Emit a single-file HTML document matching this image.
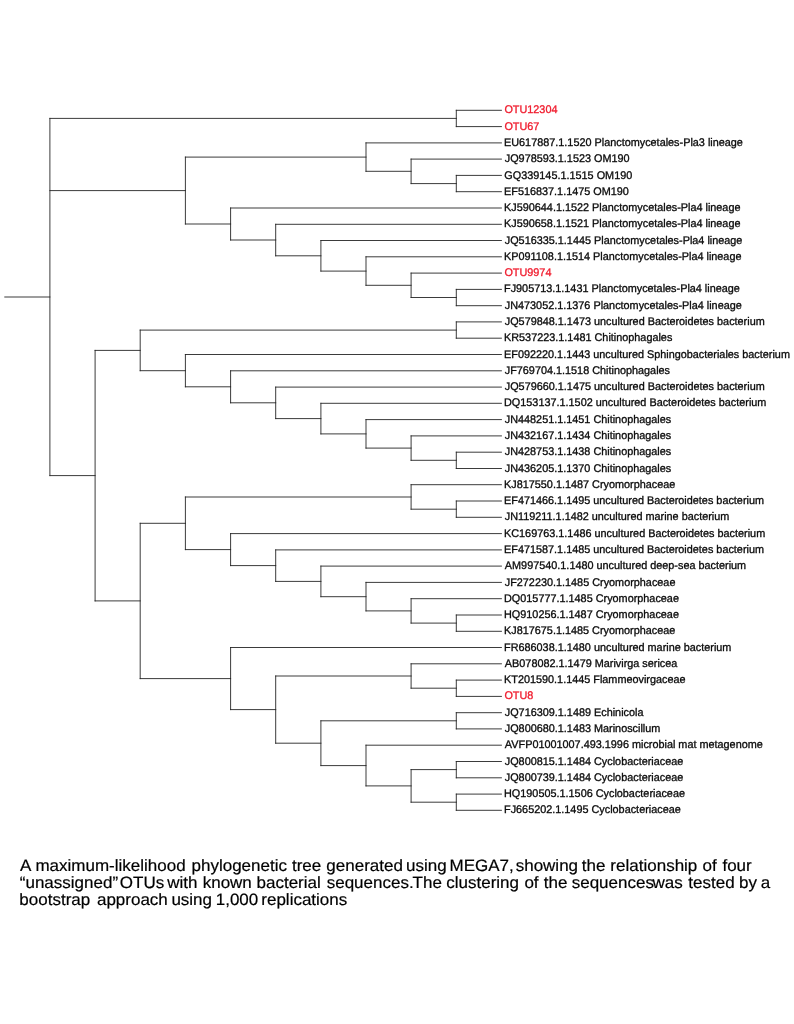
<!DOCTYPE html>
<html><head><meta charset="utf-8"><title>Phylogenetic tree</title>
<style>
html,body{margin:0;padding:0;background:#fff;}
body{width:794px;height:1024px;overflow:hidden;position:relative;font-family:"Liberation Sans",sans-serif;}
svg{position:absolute;left:0;top:0;will-change:transform;text-rendering:geometricPrecision;}
.l{font-family:"Liberation Sans",sans-serif;font-size:11.1px;fill:#0a0a0a;stroke:#0a0a0a;stroke-width:0.32px;}
.r{fill:#f01a2c;stroke:#f01a2c;}
.c{font-family:"Liberation Sans",sans-serif;font-size:16.4px;fill:#000;stroke:#000;stroke-width:0.2px;}
</style></head><body>
<svg width="794" height="1024" viewBox="0 0 794 1024">
<g stroke="#202020" stroke-width="0.88" fill="none" stroke-linecap="square">
<line x1="456.3" y1="110.3" x2="501.4" y2="110.3"/>
<line x1="456.3" y1="126.6" x2="501.4" y2="126.6"/>
<line x1="456.3" y1="110.3" x2="456.3" y2="126.6"/>
<line x1="49.9" y1="118.4" x2="456.3" y2="118.4"/>
<line x1="366.0" y1="142.9" x2="501.4" y2="142.9"/>
<line x1="411.1" y1="159.1" x2="501.4" y2="159.1"/>
<line x1="456.3" y1="175.4" x2="501.4" y2="175.4"/>
<line x1="456.3" y1="191.7" x2="501.4" y2="191.7"/>
<line x1="456.3" y1="175.4" x2="456.3" y2="191.7"/>
<line x1="411.1" y1="183.6" x2="456.3" y2="183.6"/>
<line x1="411.1" y1="159.1" x2="411.1" y2="183.6"/>
<line x1="366.0" y1="171.3" x2="411.1" y2="171.3"/>
<line x1="366.0" y1="142.9" x2="366.0" y2="171.3"/>
<line x1="185.4" y1="157.1" x2="366.0" y2="157.1"/>
<line x1="230.6" y1="208.0" x2="501.4" y2="208.0"/>
<line x1="275.7" y1="224.3" x2="501.4" y2="224.3"/>
<line x1="320.9" y1="240.5" x2="501.4" y2="240.5"/>
<line x1="366.0" y1="256.8" x2="501.4" y2="256.8"/>
<line x1="411.1" y1="273.1" x2="501.4" y2="273.1"/>
<line x1="456.3" y1="289.4" x2="501.4" y2="289.4"/>
<line x1="456.3" y1="305.7" x2="501.4" y2="305.7"/>
<line x1="456.3" y1="289.4" x2="456.3" y2="305.7"/>
<line x1="411.1" y1="297.5" x2="456.3" y2="297.5"/>
<line x1="411.1" y1="273.1" x2="411.1" y2="297.5"/>
<line x1="366.0" y1="285.3" x2="411.1" y2="285.3"/>
<line x1="366.0" y1="256.8" x2="366.0" y2="285.3"/>
<line x1="320.9" y1="271.1" x2="366.0" y2="271.1"/>
<line x1="320.9" y1="240.5" x2="320.9" y2="271.1"/>
<line x1="275.7" y1="255.8" x2="320.9" y2="255.8"/>
<line x1="275.7" y1="224.3" x2="275.7" y2="255.8"/>
<line x1="230.6" y1="240.0" x2="275.7" y2="240.0"/>
<line x1="230.6" y1="208.0" x2="230.6" y2="240.0"/>
<line x1="185.4" y1="224.0" x2="230.6" y2="224.0"/>
<line x1="185.4" y1="157.1" x2="185.4" y2="224.0"/>
<line x1="49.9" y1="190.6" x2="185.4" y2="190.6"/>
<line x1="456.3" y1="321.9" x2="501.4" y2="321.9"/>
<line x1="456.3" y1="338.2" x2="501.4" y2="338.2"/>
<line x1="456.3" y1="321.9" x2="456.3" y2="338.2"/>
<line x1="140.2" y1="330.1" x2="456.3" y2="330.1"/>
<line x1="185.4" y1="354.5" x2="501.4" y2="354.5"/>
<line x1="230.6" y1="370.8" x2="501.4" y2="370.8"/>
<line x1="275.7" y1="387.1" x2="501.4" y2="387.1"/>
<line x1="320.9" y1="403.3" x2="501.4" y2="403.3"/>
<line x1="366.0" y1="419.6" x2="501.4" y2="419.6"/>
<line x1="411.1" y1="435.9" x2="501.4" y2="435.9"/>
<line x1="456.3" y1="452.2" x2="501.4" y2="452.2"/>
<line x1="456.3" y1="468.5" x2="501.4" y2="468.5"/>
<line x1="456.3" y1="452.2" x2="456.3" y2="468.5"/>
<line x1="411.1" y1="460.3" x2="456.3" y2="460.3"/>
<line x1="411.1" y1="435.9" x2="411.1" y2="460.3"/>
<line x1="366.0" y1="448.1" x2="411.1" y2="448.1"/>
<line x1="366.0" y1="419.6" x2="366.0" y2="448.1"/>
<line x1="320.9" y1="433.9" x2="366.0" y2="433.9"/>
<line x1="320.9" y1="403.3" x2="320.9" y2="433.9"/>
<line x1="275.7" y1="418.6" x2="320.9" y2="418.6"/>
<line x1="275.7" y1="387.1" x2="275.7" y2="418.6"/>
<line x1="230.6" y1="402.8" x2="275.7" y2="402.8"/>
<line x1="230.6" y1="370.8" x2="230.6" y2="402.8"/>
<line x1="185.4" y1="386.8" x2="230.6" y2="386.8"/>
<line x1="185.4" y1="354.5" x2="185.4" y2="386.8"/>
<line x1="140.2" y1="370.7" x2="185.4" y2="370.7"/>
<line x1="140.2" y1="330.1" x2="140.2" y2="370.7"/>
<line x1="95.1" y1="350.4" x2="140.2" y2="350.4"/>
<line x1="411.1" y1="484.7" x2="501.4" y2="484.7"/>
<line x1="456.3" y1="501.0" x2="501.4" y2="501.0"/>
<line x1="456.3" y1="517.3" x2="501.4" y2="517.3"/>
<line x1="456.3" y1="501.0" x2="456.3" y2="517.3"/>
<line x1="411.1" y1="509.2" x2="456.3" y2="509.2"/>
<line x1="411.1" y1="484.7" x2="411.1" y2="509.2"/>
<line x1="185.4" y1="497.0" x2="411.1" y2="497.0"/>
<line x1="230.6" y1="533.6" x2="501.4" y2="533.6"/>
<line x1="275.7" y1="549.9" x2="501.4" y2="549.9"/>
<line x1="320.9" y1="566.1" x2="501.4" y2="566.1"/>
<line x1="366.0" y1="582.4" x2="501.4" y2="582.4"/>
<line x1="411.1" y1="598.7" x2="501.4" y2="598.7"/>
<line x1="456.3" y1="615.0" x2="501.4" y2="615.0"/>
<line x1="456.3" y1="631.3" x2="501.4" y2="631.3"/>
<line x1="456.3" y1="615.0" x2="456.3" y2="631.3"/>
<line x1="411.1" y1="623.1" x2="456.3" y2="623.1"/>
<line x1="411.1" y1="598.7" x2="411.1" y2="623.1"/>
<line x1="366.0" y1="610.9" x2="411.1" y2="610.9"/>
<line x1="366.0" y1="582.4" x2="366.0" y2="610.9"/>
<line x1="320.9" y1="596.7" x2="366.0" y2="596.7"/>
<line x1="320.9" y1="566.1" x2="320.9" y2="596.7"/>
<line x1="275.7" y1="581.4" x2="320.9" y2="581.4"/>
<line x1="275.7" y1="549.9" x2="275.7" y2="581.4"/>
<line x1="230.6" y1="565.6" x2="275.7" y2="565.6"/>
<line x1="230.6" y1="533.6" x2="230.6" y2="565.6"/>
<line x1="185.4" y1="549.6" x2="230.6" y2="549.6"/>
<line x1="185.4" y1="497.0" x2="185.4" y2="549.6"/>
<line x1="140.2" y1="523.3" x2="185.4" y2="523.3"/>
<line x1="230.6" y1="647.5" x2="501.4" y2="647.5"/>
<line x1="411.1" y1="663.8" x2="501.4" y2="663.8"/>
<line x1="456.3" y1="680.1" x2="501.4" y2="680.1"/>
<line x1="456.3" y1="696.4" x2="501.4" y2="696.4"/>
<line x1="456.3" y1="680.1" x2="456.3" y2="696.4"/>
<line x1="411.1" y1="688.2" x2="456.3" y2="688.2"/>
<line x1="411.1" y1="663.8" x2="411.1" y2="688.2"/>
<line x1="275.7" y1="676.0" x2="411.1" y2="676.0"/>
<line x1="456.3" y1="712.7" x2="501.4" y2="712.7"/>
<line x1="456.3" y1="728.9" x2="501.4" y2="728.9"/>
<line x1="456.3" y1="712.7" x2="456.3" y2="728.9"/>
<line x1="320.9" y1="720.8" x2="456.3" y2="720.8"/>
<line x1="366.0" y1="745.2" x2="501.4" y2="745.2"/>
<line x1="456.3" y1="761.5" x2="501.4" y2="761.5"/>
<line x1="456.3" y1="777.8" x2="501.4" y2="777.8"/>
<line x1="456.3" y1="761.5" x2="456.3" y2="777.8"/>
<line x1="411.1" y1="769.6" x2="456.3" y2="769.6"/>
<line x1="456.3" y1="794.1" x2="501.4" y2="794.1"/>
<line x1="456.3" y1="810.3" x2="501.4" y2="810.3"/>
<line x1="456.3" y1="794.1" x2="456.3" y2="810.3"/>
<line x1="411.1" y1="802.2" x2="456.3" y2="802.2"/>
<line x1="411.1" y1="769.6" x2="411.1" y2="802.2"/>
<line x1="366.0" y1="785.9" x2="411.1" y2="785.9"/>
<line x1="366.0" y1="745.2" x2="366.0" y2="785.9"/>
<line x1="320.9" y1="765.6" x2="366.0" y2="765.6"/>
<line x1="320.9" y1="720.8" x2="320.9" y2="765.6"/>
<line x1="275.7" y1="743.2" x2="320.9" y2="743.2"/>
<line x1="275.7" y1="676.0" x2="275.7" y2="743.2"/>
<line x1="230.6" y1="709.6" x2="275.7" y2="709.6"/>
<line x1="230.6" y1="647.5" x2="230.6" y2="709.6"/>
<line x1="140.2" y1="678.6" x2="230.6" y2="678.6"/>
<line x1="140.2" y1="523.3" x2="140.2" y2="678.6"/>
<line x1="95.1" y1="600.9" x2="140.2" y2="600.9"/>
<line x1="95.1" y1="350.4" x2="95.1" y2="600.9"/>
<line x1="49.9" y1="475.6" x2="95.1" y2="475.6"/>
<line x1="49.9" y1="118.4" x2="49.9" y2="475.6"/>
<line x1="4.8" y1="297.0" x2="49.9" y2="297.0"/>
</g>
<text class="l r" x="504.41" y="113.40" textLength="53.08" lengthAdjust="spacingAndGlyphs">OTU12304</text>
<text class="l r" x="504.41" y="129.68" textLength="34.97" lengthAdjust="spacingAndGlyphs">OTU67</text>
<text class="l" x="504.03" y="145.96" textLength="238.87" lengthAdjust="spacingAndGlyphs">EU617887.1.1520 Planctomycetales-Pla3 lineage</text>
<text class="l" x="504.74" y="162.24" textLength="124.87" lengthAdjust="spacingAndGlyphs">JQ978593.1.1523 OM190</text>
<text class="l" x="504.36" y="178.52" textLength="127.88" lengthAdjust="spacingAndGlyphs">GQ339145.1.1515 OM190</text>
<text class="l" x="504.03" y="194.80" textLength="124.87" lengthAdjust="spacingAndGlyphs">EF516837.1.1475 OM190</text>
<text class="l" x="504.03" y="211.08" textLength="236.46" lengthAdjust="spacingAndGlyphs">KJ590644.1.1522 Planctomycetales-Pla4 lineage</text>
<text class="l" x="504.03" y="227.36" textLength="236.46" lengthAdjust="spacingAndGlyphs">KJ590658.1.1521 Planctomycetales-Pla4 lineage</text>
<text class="l" x="504.74" y="243.64" textLength="237.66" lengthAdjust="spacingAndGlyphs">JQ516335.1.1445 Planctomycetales-Pla4 lineage</text>
<text class="l" x="504.03" y="259.92" textLength="237.46" lengthAdjust="spacingAndGlyphs">KP091108.1.1514 Planctomycetales-Pla4 lineage</text>
<text class="l r" x="504.41" y="276.20" textLength="47.04" lengthAdjust="spacingAndGlyphs">OTU9974</text>
<text class="l" x="504.03" y="292.48" textLength="235.85" lengthAdjust="spacingAndGlyphs">FJ905713.1.1431 Planctomycetales-Pla4 lineage</text>
<text class="l" x="504.74" y="308.76" textLength="237.05" lengthAdjust="spacingAndGlyphs">JN473052.1.1376 Planctomycetales-Pla4 lineage</text>
<text class="l" x="504.74" y="325.04" textLength="259.97" lengthAdjust="spacingAndGlyphs">JQ579848.1.1473 uncultured Bacteroidetes bacterium</text>
<text class="l" x="504.03" y="341.32" textLength="168.31" lengthAdjust="spacingAndGlyphs">KR537223.1.1481 Chitinophagales</text>
<text class="l" x="504.03" y="357.60" textLength="285.92" lengthAdjust="spacingAndGlyphs">EF092220.1.1443 uncultured Sphingobacteriales bacterium</text>
<text class="l" x="504.74" y="373.88" textLength="165.29" lengthAdjust="spacingAndGlyphs">JF769704.1.1518 Chitinophagales</text>
<text class="l" x="504.74" y="390.16" textLength="259.97" lengthAdjust="spacingAndGlyphs">JQ579660.1.1475 uncultured Bacteroidetes bacterium</text>
<text class="l" x="504.03" y="406.44" textLength="262.38" lengthAdjust="spacingAndGlyphs">DQ153137.1.1502 uncultured Bacteroidetes bacterium</text>
<text class="l" x="504.74" y="422.72" textLength="166.50" lengthAdjust="spacingAndGlyphs">JN448251.1.1451 Chitinophagales</text>
<text class="l" x="504.74" y="439.00" textLength="166.50" lengthAdjust="spacingAndGlyphs">JN432167.1.1434 Chitinophagales</text>
<text class="l" x="504.74" y="455.28" textLength="166.50" lengthAdjust="spacingAndGlyphs">JN428753.1.1438 Chitinophagales</text>
<text class="l" x="504.74" y="471.56" textLength="166.50" lengthAdjust="spacingAndGlyphs">JN436205.1.1370 Chitinophagales</text>
<text class="l" x="504.03" y="487.84" textLength="171.31" lengthAdjust="spacingAndGlyphs">KJ817550.1.1487 Cryomorphaceae</text>
<text class="l" x="504.03" y="504.12" textLength="259.97" lengthAdjust="spacingAndGlyphs">EF471466.1.1495 uncultured Bacteroidetes bacterium</text>
<text class="l" x="504.74" y="520.40" textLength="224.58" lengthAdjust="spacingAndGlyphs">JN119211.1.1482 uncultured marine bacterium</text>
<text class="l" x="504.03" y="536.68" textLength="261.18" lengthAdjust="spacingAndGlyphs">KC169763.1.1486 uncultured Bacteroidetes bacterium</text>
<text class="l" x="504.03" y="552.96" textLength="259.97" lengthAdjust="spacingAndGlyphs">EF471587.1.1485 uncultured Bacteroidetes bacterium</text>
<text class="l" x="504.85" y="569.24" textLength="241.28" lengthAdjust="spacingAndGlyphs">AM997540.1.1480 uncultured deep-sea bacterium</text>
<text class="l" x="504.74" y="585.52" textLength="170.70" lengthAdjust="spacingAndGlyphs">JF272230.1.1485 Cryomorphaceae</text>
<text class="l" x="504.03" y="601.80" textLength="174.92" lengthAdjust="spacingAndGlyphs">DQ015777.1.1485 Cryomorphaceae</text>
<text class="l" x="504.03" y="618.08" textLength="174.92" lengthAdjust="spacingAndGlyphs">HQ910256.1.1487 Cryomorphaceae</text>
<text class="l" x="504.03" y="634.36" textLength="171.31" lengthAdjust="spacingAndGlyphs">KJ817675.1.1485 Cryomorphaceae</text>
<text class="l" x="504.03" y="650.64" textLength="227.39" lengthAdjust="spacingAndGlyphs">FR686038.1.1480 uncultured marine bacterium</text>
<text class="l" x="504.85" y="666.92" textLength="172.50" lengthAdjust="spacingAndGlyphs">AB078082.1.1479 Marivirga sericea</text>
<text class="l" x="504.03" y="683.20" textLength="181.55" lengthAdjust="spacingAndGlyphs">KT201590.1.1445 Flammeovirgaceae</text>
<text class="l r" x="504.41" y="699.48" textLength="28.94" lengthAdjust="spacingAndGlyphs">OTU8</text>
<text class="l" x="504.74" y="715.76" textLength="138.74" lengthAdjust="spacingAndGlyphs">JQ716309.1.1489 Echinicola</text>
<text class="l" x="504.74" y="732.04" textLength="155.61" lengthAdjust="spacingAndGlyphs">JQ800680.1.1483 Marinoscillum</text>
<text class="l" x="504.85" y="748.32" textLength="257.96" lengthAdjust="spacingAndGlyphs">AVFP01001007.493.1996 microbial mat metagenome</text>
<text class="l" x="504.74" y="764.60" textLength="178.55" lengthAdjust="spacingAndGlyphs">JQ800815.1.1484 Cyclobacteriaceae</text>
<text class="l" x="504.74" y="780.88" textLength="178.55" lengthAdjust="spacingAndGlyphs">JQ800739.1.1484 Cyclobacteriaceae</text>
<text class="l" x="504.03" y="797.16" textLength="180.96" lengthAdjust="spacingAndGlyphs">HQ190505.1.1506 Cyclobacteriaceae</text>
<text class="l" x="504.03" y="813.44" textLength="176.74" lengthAdjust="spacingAndGlyphs">FJ665202.1.1495 Cyclobacteriaceae</text>
<text class="c" x="20.02" y="871.1" textLength="11.34" lengthAdjust="spacingAndGlyphs">A</text>
<text class="c" x="35.40" y="871.1" textLength="150.22" lengthAdjust="spacingAndGlyphs">maximum-likelihood</text>
<text class="c" x="191.50" y="871.1" textLength="95.46" lengthAdjust="spacingAndGlyphs">phylogenetic</text>
<text class="c" x="291.94" y="871.1" textLength="29.29" lengthAdjust="spacingAndGlyphs">tree</text>
<text class="c" x="326.32" y="871.1" textLength="76.57" lengthAdjust="spacingAndGlyphs">generated</text>
<text class="c" x="406.09" y="871.1" textLength="40.64" lengthAdjust="spacingAndGlyphs">using</text>
<text class="c" x="449.54" y="871.1" textLength="64.24" lengthAdjust="spacingAndGlyphs">MEGA7,</text>
<text class="c" x="515.69" y="871.1" textLength="62.37" lengthAdjust="spacingAndGlyphs">showing</text>
<text class="c" x="581.75" y="871.1" textLength="23.63" lengthAdjust="spacingAndGlyphs">the</text>
<text class="c" x="610.39" y="871.1" textLength="86.95" lengthAdjust="spacingAndGlyphs">relationship</text>
<text class="c" x="702.62" y="871.1" textLength="14.18" lengthAdjust="spacingAndGlyphs">of</text>
<text class="c" x="722.45" y="871.1" textLength="29.29" lengthAdjust="spacingAndGlyphs">four</text>
<text class="c" x="19.80" y="888.0" textLength="98.29" lengthAdjust="spacingAndGlyphs">“unassigned”</text>
<text class="c" x="119.83" y="888.0" textLength="44.38" lengthAdjust="spacingAndGlyphs">OTUs</text>
<text class="c" x="167.30" y="888.0" textLength="30.23" lengthAdjust="spacingAndGlyphs">with</text>
<text class="c" x="202.70" y="888.0" textLength="49.14" lengthAdjust="spacingAndGlyphs">known</text>
<text class="c" x="256.50" y="888.0" textLength="64.26" lengthAdjust="spacingAndGlyphs">bacterial</text>
<text class="c" x="326.69" y="888.0" textLength="86.95" lengthAdjust="spacingAndGlyphs">sequences.</text>
<text class="c" x="412.56" y="888.0" textLength="29.29" lengthAdjust="spacingAndGlyphs">The</text>
<text class="c" x="446.24" y="888.0" textLength="72.76" lengthAdjust="spacingAndGlyphs">clustering</text>
<text class="c" x="524.42" y="888.0" textLength="14.18" lengthAdjust="spacingAndGlyphs">of</text>
<text class="c" x="543.85" y="888.0" textLength="23.63" lengthAdjust="spacingAndGlyphs">the</text>
<text class="c" x="571.69" y="888.0" textLength="82.23" lengthAdjust="spacingAndGlyphs">sequences</text>
<text class="c" x="652.60" y="888.0" textLength="30.23" lengthAdjust="spacingAndGlyphs">was</text>
<text class="c" x="688.35" y="888.0" textLength="46.31" lengthAdjust="spacingAndGlyphs">tested</text>
<text class="c" x="739.00" y="888.0" textLength="17.95" lengthAdjust="spacingAndGlyphs">by</text>
<text class="c" x="760.84" y="888.0" textLength="9.45" lengthAdjust="spacingAndGlyphs">a</text>
<text class="c" x="19.39" y="905.2" textLength="70.88" lengthAdjust="spacingAndGlyphs">bootstrap</text>
<text class="c" x="96.94" y="905.2" textLength="70.89" lengthAdjust="spacingAndGlyphs">approach</text>
<text class="c" x="171.40" y="905.2" textLength="40.64" lengthAdjust="spacingAndGlyphs">using</text>
<text class="c" x="215.72" y="905.2" textLength="42.54" lengthAdjust="spacingAndGlyphs">1,000</text>
<text class="c" x="261.29" y="905.2" textLength="85.99" lengthAdjust="spacingAndGlyphs">replications</text>
</svg></body></html>
